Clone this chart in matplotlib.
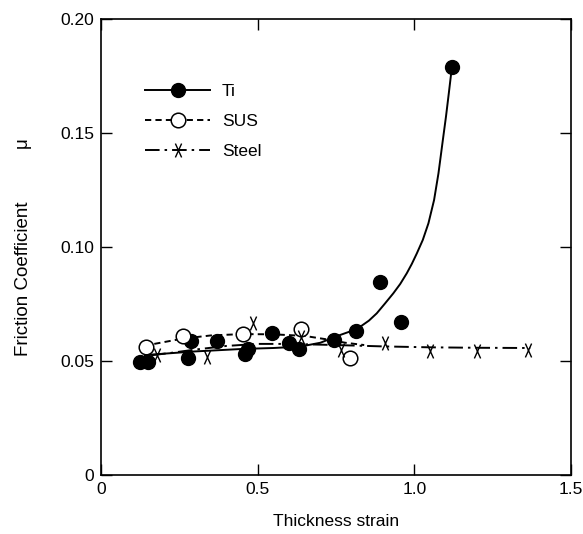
import matplotlib
matplotlib.use("Agg")
import matplotlib.pyplot as plt
from matplotlib.path import Path

plt.rcParams['font.family'] = ['Liberation Sans', 'DejaVu Sans']
plt.rcParams['lines.scale_dashes'] = False

# Measured points
ti_x = [0.124, 0.150, 0.278, 0.287, 0.370, 0.460, 0.469, 0.546, 0.600, 0.632, 0.744, 0.814, 0.891, 0.957, 1.120]
ti_y = [0.0496, 0.0496, 0.0513, 0.0588, 0.0588, 0.0531, 0.0553, 0.0623, 0.0579, 0.0553, 0.0592, 0.0632, 0.0846, 0.0671, 0.179]

sus_x = [0.144, 0.262, 0.453, 0.638, 0.795]
sus_y = [0.0561, 0.0610, 0.0618, 0.0640, 0.0513]

steel_x = [0.179, 0.338, 0.485, 0.638, 0.766, 0.906, 1.050, 1.200, 1.363]
steel_y = [0.0526, 0.0518, 0.0667, 0.0605, 0.0548, 0.0579, 0.0544, 0.0544, 0.0548]

# Fitted curves
ti_fit_x = [0.140, 0.300, 0.453, 0.550, 0.635, 0.700, 0.763, 0.800, 0.827, 0.855, 0.880, 0.905,
            0.933, 0.955, 0.976, 0.992, 1.008, 1.027, 1.045, 1.063, 1.077, 1.091, 1.101, 1.110, 1.120]
ti_fit_y = [0.0526, 0.0542, 0.0553, 0.0557, 0.0563, 0.0580, 0.0614, 0.0632, 0.0650, 0.0677, 0.0709, 0.0750,
            0.0797, 0.0838, 0.0885, 0.0926, 0.0972, 0.1031, 0.1104, 0.1206, 0.1323, 0.1469, 0.1572, 0.1674, 0.1790]

sus_fit_x = [0.17, 0.26, 0.35, 0.45, 0.55, 0.65, 0.72, 0.78, 0.84]
sus_fit_y = [0.0575, 0.0598, 0.0612, 0.0618, 0.0617, 0.0610, 0.0595, 0.0580, 0.0570]

steel_fit_x = [0.16, 0.22, 0.30, 0.40, 0.50, 0.60, 0.75, 0.90, 1.05, 1.20, 1.37]
steel_fit_y = [0.0525, 0.0535, 0.0550, 0.0566, 0.0575, 0.0575, 0.0570, 0.0564, 0.0560, 0.0558, 0.0557]

x_ticks = [0, 0.5, 1.0, 1.5]
x_labels = ['0', '0.5', '1.0', '1.5']
y_ticks = [0, 0.05, 0.10, 0.15, 0.20]
y_labels = ['0', '0.05', '0.10', '0.15', '0.20']

# tall narrow X marker
steel_marker = Path([(-0.45, -1), (0.45, 1), (0.45, -1), (-0.45, 1)],
                    [Path.MOVETO, Path.LINETO, Path.MOVETO, Path.LINETO])

fig = plt.figure(figsize=(5.83, 5.34), dpi=100)
ax = fig.add_axes([101 / 583, 1 - 475 / 534, 470 / 583, 456 / 534])

ax.plot(ti_fit_x, ti_fit_y, color='black', lw=1.4)
ax.plot(sus_fit_x, sus_fit_y, color='black', lw=1.4, dashes=(4.5, 3))
ax.plot(steel_fit_x, steel_fit_y, color='black', lw=1.4, dashes=(10.5, 3.6, 1.8, 3.6))

ax.plot(ti_x, ti_y, 'o', color='black', ms=10)
ax.plot(sus_x, sus_y, 'o', mfc='white', mec='black', mew=1.1, ms=10.5)
ax.plot(steel_x, steel_y, linestyle='none', marker=steel_marker, color='black', ms=10, mew=1.0)

# legend handles
h_ti, = ax.plot([], [], '-o', color='black', lw=1.4, ms=10)
h_sus, = ax.plot([], [], marker='o', color='black', mfc='white', mew=1.1, ms=10.5, lw=1.4, dashes=(4.5, 3))
h_st, = ax.plot([], [], marker=steel_marker, color='black', ms=10, mew=1.0, lw=1.4, dashes=(10.5, 3.6, 1.8, 3.6))
ax.legend([h_ti, h_sus, h_st], ['Ti', 'SUS', 'Steel'], loc='upper left', bbox_to_anchor=(0.094, 0.857),
          frameon=False, fontsize=12.5, handlelength=3.74, handletextpad=0.69, labelspacing=0.84,
          borderpad=0, borderaxespad=0, numpoints=1)

ax.set_xlim(0, 1.5)
ax.set_ylim(0, 0.20)
ax.set_xticks(x_ticks)
ax.set_xticklabels(x_labels)
ax.set_yticks(y_ticks)
ax.set_yticklabels(y_labels)
ax.tick_params(direction='in', length=8, width=1.0, top=True, right=True, labelsize=12.5, pad=5)
for side in ax.spines.values():
    side.set_linewidth(1.2)

ax.set_xlabel('Thickness strain', fontsize=12.5, labelpad=12)
ax.set_ylabel('Friction Coefficient          \u03bc', fontsize=13.5, labelpad=20)

fig.savefig('out.png', dpi=100)
